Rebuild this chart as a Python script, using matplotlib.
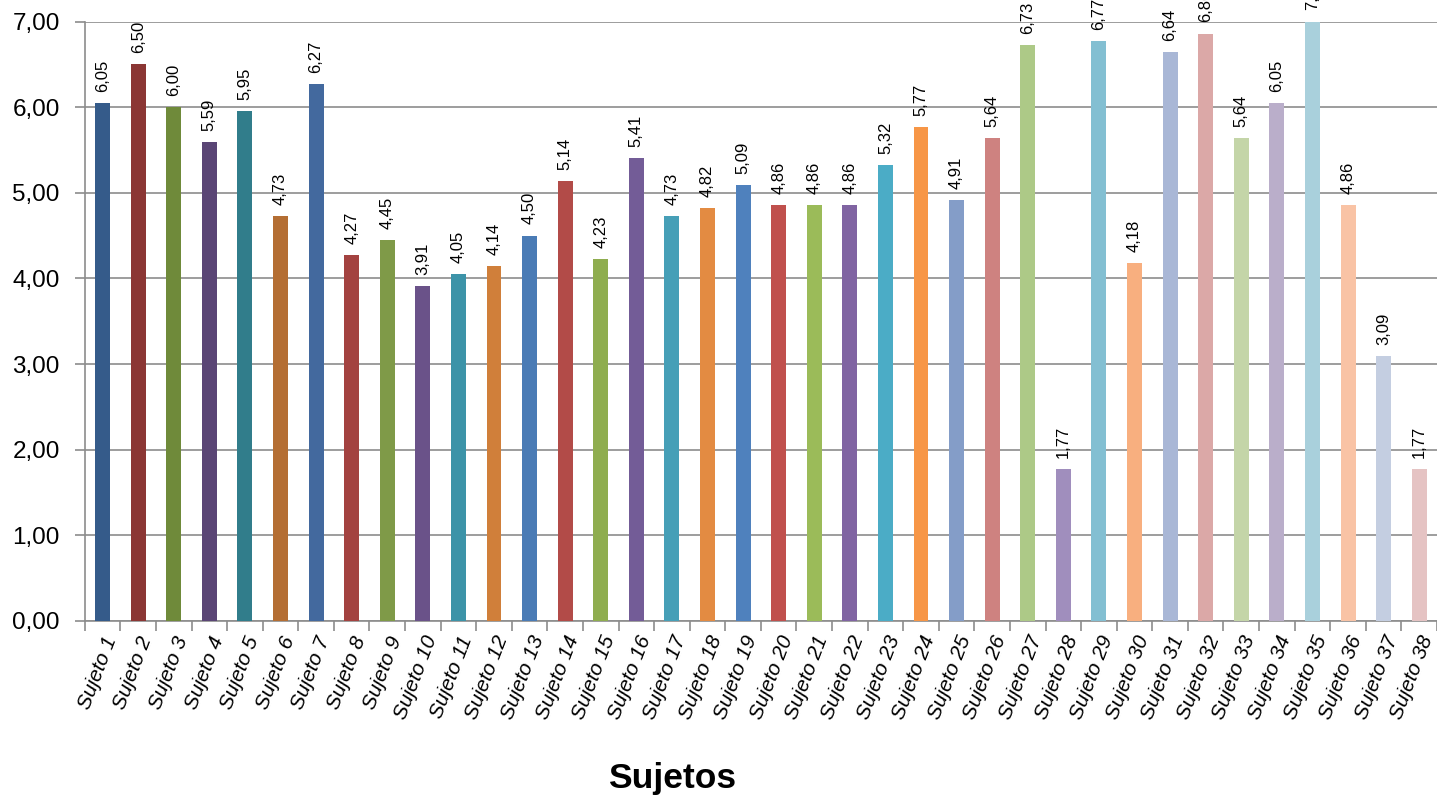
import matplotlib.pyplot as plt
import numpy as np

sujetos = ["Sujeto %d" % i for i in range(1, 39)]
valores = [6.05, 6.50, 6.00, 5.59, 5.95, 4.73, 6.27, 4.27, 4.45, 3.91,
           4.05, 4.14, 4.50, 5.14, 4.23, 5.41, 4.73, 4.82, 5.09, 4.86,
           4.86, 4.86, 5.32, 5.77, 4.91, 5.64, 6.73, 1.77, 6.77, 4.18,
           6.64, 6.86, 5.64, 6.05, 7.00, 4.86, 3.09, 1.77]
colores = ["#355b8a", "#8b3634", "#6f8a3a", "#5a4575", "#317d8b", "#b46e33",
           "#43699e", "#a34240", "#7f9a48", "#6a5289", "#3c93a8", "#d07f3a",
           "#4a7bb5", "#b24b48", "#8fad4f", "#735c97", "#469fb7", "#e38b42",
           "#4f81bd", "#c0504d", "#9bbb59", "#8064a2", "#4bacc6", "#f79646",
           "#849dc8", "#ce8280", "#adc987", "#a08ebd", "#83bfd2", "#f8af7f",
           "#a9b7d6", "#dba8a7", "#c4d5a8", "#baaeca", "#a9d0dc", "#f9c3a5",
           "#c4cee1", "#e5c3c3"]

fig = plt.figure(figsize=(14.37, 7.99), dpi=100)
ax = fig.add_axes([0.059, 0.223, 0.941, 0.75])

x = np.arange(len(valores))
ax.bar(x, valores, width=0.42, color=colores, zorder=3)

# value labels sit above the plot area, so the top ones run off the figure
for xi, v in zip(x, valores):
    ax.annotate(("%.2f" % v).replace(".", ","), (xi, v), xytext=(0, 8),
                textcoords="offset points", rotation=90, ha="center", va="bottom",
                fontsize=12, family="Liberation Sans", annotation_clip=False)

ax.set_xlim(-0.5, len(valores) - 0.5)
ax.set_ylim(0, 7)
ax.set_yticks(np.arange(0, 8, 1))
ax.set_yticklabels([("%.2f" % t).replace(".", ",") for t in range(8)],
                   fontsize=17.5, family="Liberation Sans")
ax.yaxis.grid(True, color="#8c8c8c", linewidth=1.2, zorder=0)

ax.set_xticks(x)
ax.set_xticklabels(sujetos, rotation=69, ha="right", rotation_mode="anchor",
                   fontsize=15, family="Liberation Sans", style="italic")
ax.set_xticks(np.arange(-0.5, len(valores), 1), minor=True)
ax.tick_params(axis="x", which="major", length=0, pad=9)
ax.tick_params(axis="x", which="minor", length=7, color="#8c8c8c", width=1.2)
ax.tick_params(axis="y", length=7, color="#8c8c8c", width=1.2, pad=11)

for s in ["top", "right"]:
    ax.spines[s].set_visible(False)
for s in ["left", "bottom"]:
    ax.spines[s].set_color("#8c8c8c")
    ax.spines[s].set_linewidth(1.2)

fig.text(0.468, 0.014, "Sujetos", fontsize=25.5, fontweight="bold",
         family="Liberation Sans", ha="center", va="baseline")

fig.savefig("out.png", dpi=100)
